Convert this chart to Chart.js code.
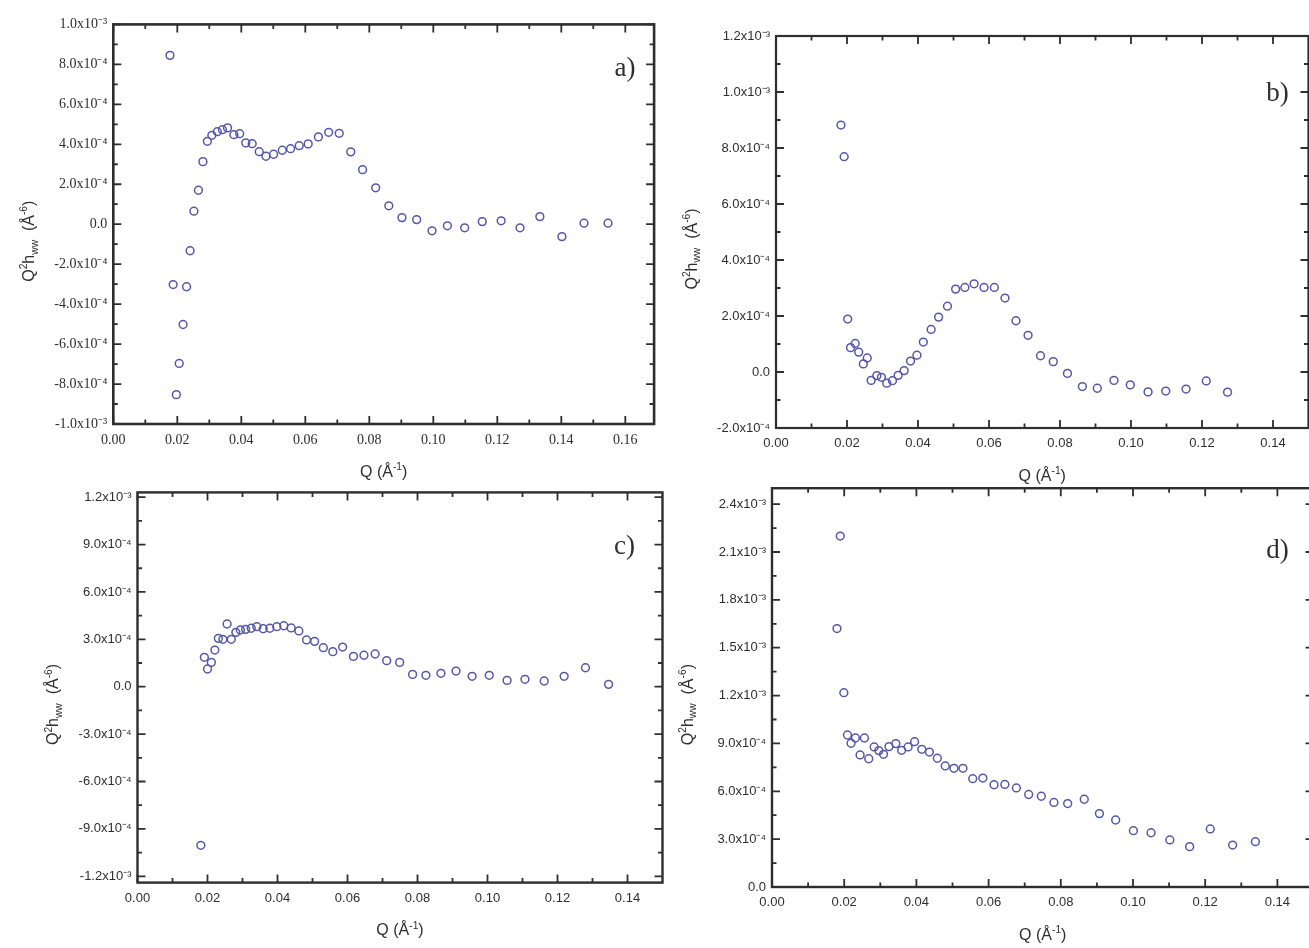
<!DOCTYPE html>
<html>
<head>
<meta charset="utf-8">
<script src="https://cdn.jsdelivr.net/npm/chart.js@4.4.0/dist/chart.umd.min.js"></script>
<style>
  html, body { margin: 0; padding: 0; background: #fff; }
  body { position: relative; width: 1309px; height: 948px; overflow: hidden; }
  canvas { position: absolute; }
</style>
</head>
<body>
<canvas id="pa"></canvas>
<canvas id="pb"></canvas>
<canvas id="pc"></canvas>
<canvas id="pd"></canvas>
<script>
// Q (1/A) and Q^2 h_ww (in units of 1e-4 A^-6)
const qA = [0.0177,0.0187,0.0197,0.0206,0.0218,0.0229,0.0240,0.0252,0.0266,0.0280,0.0294,0.0308,0.0325,0.0341,0.0357,0.0377,0.0395,0.0414,0.0434,0.0456,0.0477,0.0501,0.0528,0.0554,0.0581,0.0609,0.0641,0.0673,0.0706,0.0742,0.0779,0.0820,0.0861,0.0902,0.0948,0.0996,0.1044,0.1098,0.1153,0.1212,0.1271,0.1333,0.1402,0.1471,0.1546];
const hA = [8.45,-3.02,-8.53,-6.97,-5.02,-3.13,-1.33,0.65,1.70,3.13,4.15,4.45,4.63,4.73,4.82,4.48,4.53,4.07,4.03,3.63,3.40,3.50,3.70,3.78,3.93,4.02,4.37,4.60,4.55,3.62,2.73,1.82,0.92,0.33,0.23,-0.33,-0.08,-0.18,0.13,0.17,-0.18,0.38,-0.62,0.05,0.05];

const qB = [0.0183,0.0192,0.0202,0.0210,0.0223,0.0233,0.0246,0.0257,0.0268,0.0284,0.0297,0.0312,0.0328,0.0344,0.0361,0.0379,0.0397,0.0415,0.0437,0.0458,0.0483,0.0506,0.0532,0.0558,0.0586,0.0615,0.0645,0.0676,0.0710,0.0745,0.0781,0.0821,0.0863,0.0905,0.0952,0.0998,0.1048,0.1098,0.1155,0.1212,0.1272];
const hB = [8.82,7.69,1.89,0.87,1.02,0.71,0.29,0.50,-0.30,-0.13,-0.19,-0.40,-0.31,-0.12,0.05,0.39,0.60,1.07,1.52,1.96,2.35,2.96,3.02,3.15,3.02,3.02,2.64,1.83,1.31,0.58,0.37,-0.05,-0.52,-0.58,-0.30,-0.46,-0.71,-0.68,-0.61,-0.32,-0.72];

const qC = [0.0181,0.0191,0.0200,0.0211,0.0221,0.0231,0.0244,0.0256,0.0268,0.0281,0.0294,0.0309,0.0325,0.0341,0.0359,0.0378,0.0398,0.0418,0.0439,0.0461,0.0483,0.0506,0.0531,0.0558,0.0586,0.0617,0.0647,0.0679,0.0712,0.0749,0.0786,0.0824,0.0867,0.0910,0.0956,0.1005,0.1056,0.1107,0.1162,0.1219,0.1280,0.1346];
const hC = [-10.04,1.86,1.12,1.54,2.32,3.06,3.00,3.97,3.00,3.44,3.59,3.63,3.70,3.80,3.67,3.70,3.80,3.86,3.72,3.53,2.96,2.87,2.47,2.22,2.51,1.92,1.99,2.07,1.65,1.54,0.78,0.72,0.85,0.99,0.66,0.72,0.40,0.47,0.36,0.66,1.20,0.15];

const qD = [0.0180,0.0189,0.0199,0.0209,0.0219,0.0231,0.0244,0.0256,0.0268,0.0283,0.0296,0.0309,0.0324,0.0343,0.0359,0.0377,0.0395,0.0415,0.0436,0.0458,0.0480,0.0504,0.0529,0.0556,0.0584,0.0615,0.0645,0.0677,0.0711,0.0746,0.0781,0.0819,0.0865,0.0907,0.0952,0.1001,0.1050,0.1102,0.1157,0.1214,0.1276,0.1339];
const hD = [16.2,22.0,12.18,9.53,9.01,9.34,8.28,9.34,8.04,8.78,8.55,8.32,8.80,8.99,8.57,8.78,9.11,8.63,8.46,8.07,7.59,7.44,7.44,6.79,6.83,6.41,6.43,6.21,5.80,5.69,5.30,5.23,5.50,4.60,4.20,3.53,3.40,2.95,2.53,3.64,2.63,2.84];

// tick values (x in 1/A, y in 1e-4 A^-6)
const xTicks16 = [0, 0.02, 0.04, 0.06, 0.08, 0.10, 0.12, 0.14, 0.16];
const xTicks14 = [0, 0.02, 0.04, 0.06, 0.08, 0.10, 0.12, 0.14];
const yTicksA = [-10, -8, -6, -4, -2, 0, 2, 4, 6, 8, 10];
const yTicksB = [-2, 0, 2, 4, 6, 8, 10, 12];
const yTicksC = [-12, -9, -6, -3, 0, 3, 6, 9, 12];
const yTicksD = [0, 3, 6, 9, 12, 15, 18, 21, 24];

const SUP = {'-':'⁻','0':'⁰','1':'¹','2':'²','3':'³','4':'⁴','5':'⁵','6':'⁶','7':'⁷','8':'⁸','9':'⁹'};
function sci(v) {
  if (Math.abs(v) < 1e-12) return '0.0';
  const e = Math.floor(Math.log10(Math.abs(v)) + 1e-9);
  const m = v / Math.pow(10, e);
  return m.toFixed(1) + 'x10' + String(e).split('').map(c => SUP[c]).join('');
}

const INK = '#2e2e2e';
const SANS = '"Liberation Sans", Arial, sans-serif';
const SERIF = '"Liberation Serif", "Times New Roman", serif';

// draws text pieces with super/subscripts centred at 0,0 of the current transform
function richText(ctx, parts, size, family) {
  const small = size * 0.64;
  let total = 0;
  const ws = parts.map(([t, k]) => {
    ctx.font = (k ? small : size) + 'px ' + family;
    const w = ctx.measureText(t).width;
    total += w;
    return w;
  });
  let x = -total / 2;
  ctx.textAlign = 'left';
  ctx.textBaseline = 'alphabetic';
  parts.forEach(([t, k], i) => {
    ctx.font = (k ? small : size) + 'px ' + family;
    const dy = k === 1 ? -size * 0.42 : (k === -1 ? size * 0.22 : 0);
    ctx.fillText(t, x, size * 0.36 + dy);
    x += ws[i];
  });
}

const framePlugin = {
  id: 'frame',
  afterDraw(chart, args, o) {
    const {ctx, chartArea: a} = chart;
    const sx = chart.scales.x, sy = chart.scales.y;
    ctx.save();
    ctx.strokeStyle = INK;
    ctx.lineCap = 'butt';

    const tickSet = (scale) => {
      const vals = scale.ticks.map(t => t.value);
      const step = vals[1] - vals[0];
      const minor = [];
      for (let i = 0; i < vals.length - 1; i++) minor.push((vals[i] + vals[i + 1]) / 2);
      if (vals[0] - step / 2 >= scale.min) minor.push(vals[0] - step / 2);
      if (vals[vals.length - 1] + step / 2 <= scale.max) minor.push(vals[vals.length - 1] + step / 2);
      return [vals.map(v => [v, 8]), minor.map(v => [v, 4.5])].flat();
    };

    ctx.lineWidth = 1.8;
    ctx.beginPath();
    tickSet(sx).forEach(([v, len]) => {
      const px = sx.getPixelForValue(v);
      ctx.moveTo(px, a.bottom); ctx.lineTo(px, a.bottom - len);
      ctx.moveTo(px, a.top); ctx.lineTo(px, a.top + len);
    });
    tickSet(sy).forEach(([v, len]) => {
      const py = sy.getPixelForValue(v);
      ctx.moveTo(a.left, py); ctx.lineTo(a.left + len, py);
      ctx.moveTo(a.right, py); ctx.lineTo(a.right - len, py);
    });
    ctx.stroke();

    ctx.lineWidth = o.frame;
    ctx.strokeRect(a.left, a.top, a.right - a.left, a.bottom - a.top);

    ctx.fillStyle = INK;
    // y title
    ctx.save();
    ctx.translate(a.left - 85, (a.top + a.bottom) / 2 + 17);
    ctx.rotate(-Math.PI / 2);
    richText(ctx, [['Q',0],['2',1],['h',0],['ww',-1],['  (Å',0],['-6',1],[')',0]], 16, SANS);
    ctx.restore();
    // x title
    ctx.save();
    ctx.translate((a.left + a.right) / 2, a.bottom + 47);
    richText(ctx, [['Q (Å',0],['-1',1],[')',0]], 16, SANS);
    ctx.restore();
    // panel letter
    ctx.font = '27px ' + SERIF;
    ctx.textAlign = 'center';
    ctx.textBaseline = 'middle';
    ctx.fillText(o.label, a.right - o.lab[0], a.top + o.lab[1]);
    ctx.restore();
  }
};

const panels = [
  {id: 'pa', q: qA, h: hA, xTicks: xTicks16, yTicks: yTicksA, xMax: 0.169, yMin: -10, yMax: 10,
   box: {l: 113.3, t: 24, r: 654.1, b: 424}, family: SERIF, fsize: 14, label: 'a)', lab: [29, 45], frame: 2.6},
  {id: 'pb', q: qB, h: hB, xTicks: xTicks14, yTicks: yTicksB, xMax: 0.15, yMin: -2, yMax: 12,
   box: {l: 776, t: 36, r: 1308.5, b: 428}, family: SANS, fsize: 13, label: 'b)', lab: [31, 58], frame: 2.2},
  {id: 'pc', q: qC, h: hC, xTicks: xTicks14, yTicks: yTicksC, xMax: 0.15, yMin: -12.4, yMax: 12.3,
   box: {l: 137.5, t: 492.4, r: 662.5, b: 882.6}, family: SANS, fsize: 13, label: 'c)', lab: [38, 55], frame: 2.4},
  {id: 'pd', q: qD, h: hD, xTicks: xTicks14, yTicks: yTicksD, xMax: 0.15, yMin: 0, yMax: 25,
   box: {l: 772, t: 488.2, r: 1313.5, b: 887}, family: SANS, fsize: 13, label: 'd)', lab: [36, 63], frame: 2.4}
];

panels.forEach(p => {
  const b = p.box;
  const L = Math.round(b.l - 110), T = Math.round(b.t - 14);
  const W = Math.ceil(b.r + 14 - L), H = Math.ceil(b.b + 64 - T);
  const cv = document.getElementById(p.id);
  cv.width = W; cv.height = H;
  cv.style.left = L + 'px'; cv.style.top = T + 'px';
  cv.style.width = W + 'px'; cv.style.height = H + 'px';

  const tickFont = {family: p.family, size: p.fsize};
  new Chart(cv, {
    type: 'scatter',
    data: {
      datasets: [{
        data: p.q.map((q, i) => ({x: q, y: p.h[i] * 1e-4})),
        pointStyle: 'circle',
        pointRadius: 3.9,
        pointHoverRadius: 3.9,
        pointBorderWidth: 1.5,
        borderColor: '#5656a8',
        backgroundColor: 'rgba(0,0,0,0)'
      }]
    },
    options: {
      responsive: false,
      animation: false,
      events: [],
      layout: {padding: {left: 0, top: b.t - T, right: W - (b.r - L), bottom: 0}},
      plugins: {
        legend: {display: false},
        tooltip: {enabled: false},
        frame: {label: p.label, lab: p.lab, frame: p.frame}
      },
      scales: {
        x: {
          type: 'linear', min: 0, max: p.xMax,
          grid: {display: false, drawTicks: false},
          border: {display: false},
          afterBuildTicks: s => { s.ticks = p.xTicks.map(v => ({value: v})); },
          afterFit: s => { s.height = H - (b.b - T); },
          ticks: {callback: v => v.toFixed(2), font: tickFont, color: INK, padding: 8, maxRotation: 0, autoSkip: false}
        },
        y: {
          type: 'linear', min: p.yMin * 1e-4, max: p.yMax * 1e-4,
          grid: {display: false, drawTicks: false},
          border: {display: false},
          afterBuildTicks: s => { s.ticks = p.yTicks.map(v => ({value: v * 1e-4})); },
          afterFit: s => { s.width = b.l - L; },
          ticks: {callback: v => sci(v), font: tickFont, color: INK, padding: 6, autoSkip: false}
        }
      }
    },
    plugins: [framePlugin]
  });
});
</script>
</body>
</html>
